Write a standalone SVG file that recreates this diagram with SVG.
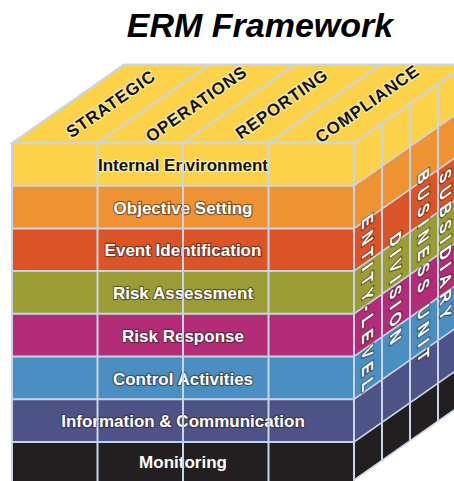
<svg xmlns="http://www.w3.org/2000/svg" width="454" height="481" viewBox="0 0 454 481">
<style>
.grid{fill:none;stroke:#c9d5e6;stroke-width:2}
.lbl{font-family:"Liberation Sans",Arial,sans-serif;font-weight:bold;font-size:17px;text-anchor:middle}
.w{fill:#ffffff;stroke:#2e221c;stroke-opacity:.55;stroke-width:2.4;paint-order:stroke;stroke-linejoin:round}
.k{fill:#111111;stroke:#fff4c0;stroke-opacity:.85;stroke-width:2.4;paint-order:stroke;stroke-linejoin:round}
.top{font-family:"Liberation Sans",Arial,sans-serif;font-weight:bold;font-size:17px;text-anchor:middle;letter-spacing:0.8px}
.side{font-family:"Liberation Sans",Arial,sans-serif;font-weight:bold;font-size:16px;text-anchor:middle;letter-spacing:5.5px}
.c1{fill:#fdd24b}.c2{fill:#ef9233}.c3{fill:#db5427}.c4{fill:#9c9c36}
.c5{fill:#b22c77}.c6{fill:#4a8ec2}.c7{fill:#4e5387}.c8{fill:#231f20}
</style>
<text x="260" y="37" font-family="Liberation Sans, Arial, sans-serif" font-size="34" font-weight="bold" font-style="italic" text-anchor="middle" fill="#000">ERM Framework</text>

<g id="top-face">
<polygon class="c1" points="12,143 354,143 466,64.6 124,64.6"/>
</g>

<g id="right-face" transform="translate(354,0) skewY(-35)">
<rect class="c1" x="0" y="143" width="112" height="42.7"/>
<rect class="c2" x="0" y="185.7" width="112" height="42.7"/>
<rect class="c3" x="0" y="228.4" width="112" height="42.7"/>
<rect class="c4" x="0" y="271.1" width="112" height="42.7"/>
<rect class="c5" x="0" y="313.8" width="112" height="42.7"/>
<rect class="c6" x="0" y="356.5" width="112" height="42.7"/>
<rect class="c7" x="0" y="399.2" width="112" height="42.7"/>
<rect class="c8" x="0" y="441.9" width="112" height="38.1"/>
</g>

<g id="row-internal-environment"><rect class="c1" x="12" y="143" width="342" height="42.7"/><text class="lbl k" x="183" y="171">Internal Environment</text></g>
<g id="row-objective-setting"><rect class="c2" x="12" y="185.7" width="342" height="42.7"/><text class="lbl w" x="183" y="213.5">Objective Setting</text></g>
<g id="row-event-identification"><rect class="c3" x="12" y="228.4" width="342" height="42.7"/><text class="lbl w" x="183" y="256">Event Identification</text></g>
<g id="row-risk-assessment"><rect class="c4" x="12" y="271.1" width="342" height="42.7"/><text class="lbl w" x="183" y="299">Risk Assessment</text></g>
<g id="row-risk-response"><rect class="c5" x="12" y="313.8" width="342" height="42.7"/><text class="lbl w" x="183" y="341.5">Risk Response</text></g>
<g id="row-control-activities"><rect class="c6" x="12" y="356.5" width="342" height="42.7"/><text class="lbl w" x="183" y="384.5">Control Activities</text></g>
<g id="row-information-communication"><rect class="c7" x="12" y="399.2" width="342" height="42.7"/><text class="lbl w" x="183" y="427">Information &amp; Communication</text></g>
<g id="row-monitoring"><rect class="c8" x="12" y="441.9" width="342" height="40"/><text class="lbl w" x="183" y="467.5">Monitoring</text></g>

<g id="grid">
<g class="grid">
<polygon points="12,143 354,143 466,64.6 124,64.6"/>
<line x1="97.5" y1="143" x2="209.5" y2="64.6"/>
<line x1="183" y1="143" x2="295" y2="64.6"/>
<line x1="268.5" y1="143" x2="380.5" y2="64.6"/>
<path d="M12,143V481M97.5,143V481M183,143V481M268.5,143V481M354,143V481"/>
<path d="M12,185.7H354M12,228.4H354M12,271.1H354M12,313.8H354M12,356.5H354M12,399.2H354M12,441.9H354"/>
</g>
<g class="grid" transform="translate(354,0) skewY(-35)">
<path d="M28,143V480M56,143V480M84,143V480M112,143V480"/>
<path d="M0,185.7H112M0,228.4H112M0,271.1H112M0,313.8H112M0,356.5H112M0,399.2H112M0,441.9H112M0,480H112"/>
</g>
</g>

<g id="top-labels">
<text class="top k" transform="translate(110.75,103.8) rotate(-35)" x="0" y="6">STRATEGIC</text>
<text class="top k" transform="translate(196.25,103.8) rotate(-35)" x="0" y="6">OPERATIONS</text>
<text class="top k" transform="translate(281.75,103.8) rotate(-35)" x="0" y="6">REPORTING</text>
<text class="top k" transform="translate(367.25,103.8) rotate(-35)" x="0" y="6">COMPLIANCE</text>
</g>

<g id="side-labels" transform="translate(354,0) skewY(-35)">
<text class="side w" transform="translate(8.3,315) rotate(90)">ENTITY-LEVEL</text>
<text class="side w" transform="translate(36.3,320) rotate(90)">DIVISION</text>
<text class="side w" transform="translate(64.3,317) rotate(90)">BUSINESS UNIT</text>
<text class="side w" transform="translate(85.5,311) rotate(90)" font-size="15.5">SUBSIDIARY</text>
</g>
</svg>
